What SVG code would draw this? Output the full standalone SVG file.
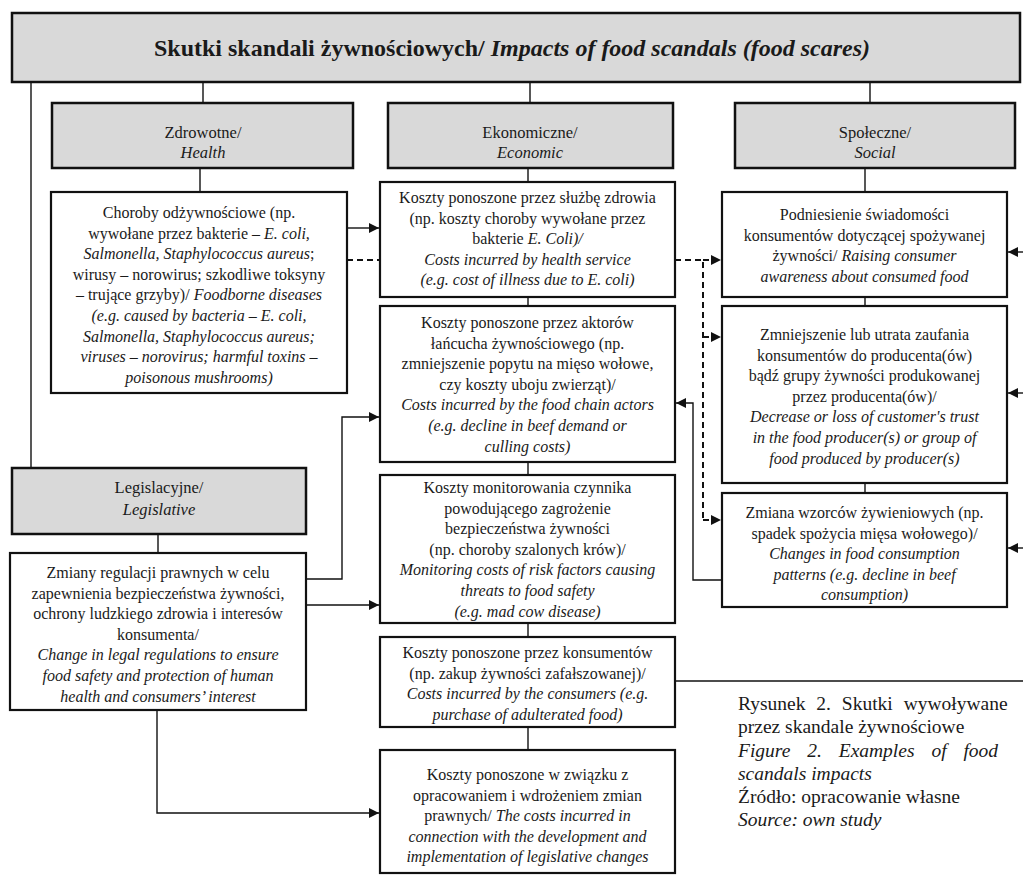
<svg xmlns="http://www.w3.org/2000/svg" width="1023" height="876" viewBox="0 0 1023 876">
<style>
text{font-family:"Liberation Serif","Times New Roman",serif;fill:#1a1a1a}
.t{font-size:16px;text-anchor:middle}
.h{font-size:16.5px;text-anchor:middle}
.i{font-style:italic}
.hdr{fill:#d9d9d9;stroke:#111;stroke-width:2.5}
.box{fill:#fff;stroke:#111;stroke-width:2.2}
.ln{fill:none;stroke:#111;stroke-width:1.4}
.ds{fill:none;stroke:#111;stroke-width:2;stroke-dasharray:6,4}
.cap{font-size:19.5px}
</style>
<defs>
<marker id="ar" viewBox="0 0 10 10" refX="10" refY="5" markerWidth="11" markerHeight="10" markerUnits="userSpaceOnUse" orient="auto">
<path d="M0,0 L10,5 L0,10 z" fill="#111"/>
</marker>
</defs>
<rect width="1023" height="876" fill="#fff"/>

<g id="connectors">
<line class="ln" x1="31" y1="82" x2="31" y2="468"/>
<line class="ln" x1="203" y1="82" x2="203" y2="103"/>
<line class="ln" x1="530" y1="82" x2="530" y2="103"/>
<line class="ln" x1="870" y1="82" x2="870" y2="103"/>
<line class="ln" x1="200" y1="168" x2="200" y2="192"/>
<line class="ln" x1="528" y1="168" x2="528" y2="182"/>
<line class="ln" x1="865" y1="168" x2="865" y2="192"/>
<line class="ln" x1="528" y1="297" x2="528" y2="306"/>
<line class="ln" x1="528" y1="462" x2="528" y2="475"/>
<line class="ln" x1="528" y1="623" x2="528" y2="637"/>
<line class="ln" x1="528" y1="727" x2="528" y2="750"/>
<line class="ln" x1="865" y1="297" x2="865" y2="306"/>
<line class="ln" x1="865" y1="483" x2="865" y2="493"/>
<line class="ln" x1="158" y1="534" x2="158" y2="553"/>
<line class="ln" x1="347" y1="228" x2="379" y2="228" marker-end="url(#ar)"/>
<line class="ds" x1="347" y1="260" x2="380" y2="260"/>
<polyline class="ds" points="675,260 703,260 703,520"/>
<line class="ds" x1="703" y1="260" x2="721" y2="260" marker-end="url(#ar)"/>
<line class="ds" x1="703" y1="337" x2="721" y2="337" marker-end="url(#ar)"/>
<line class="ds" x1="703" y1="520" x2="721" y2="520" marker-end="url(#ar)"/>
<polyline class="ln" points="722,580 693,580 693,403 676,403" marker-end="url(#ar)"/>
<polyline class="ln" points="306,579 342,579 342,417 379,417" marker-end="url(#ar)"/>
<line class="ln" x1="306" y1="605" x2="379" y2="605" marker-end="url(#ar)"/>
<polyline class="ln" points="157,710 157,813 379,813" marker-end="url(#ar)"/>
<line class="ln" x1="1023" y1="252" x2="1008" y2="252" marker-end="url(#ar)"/>
<line class="ln" x1="1023" y1="393" x2="1008" y2="393" marker-end="url(#ar)"/>
<line class="ln" x1="1023" y1="548" x2="1008" y2="548" marker-end="url(#ar)"/>
<line class="ln" x1="675" y1="681" x2="1023" y2="681"/>
</g>

<g id="title">
<rect class="hdr" x="12" y="13" width="1008" height="69"/>
<text x="512" y="56" style="font-size:24px;font-weight:bold;text-anchor:middle">Skutki skandali żywnościowych/ <tspan class="i">Impacts of food scandals (food scares)</tspan></text>
</g>

<g id="hdr-health">
<rect class="hdr" x="52" y="103" width="301" height="65"/>
<text class="h" x="203" y="138">Zdrowotne/</text>
<text class="h i" x="203" y="158">Health</text>
</g>

<g id="hdr-economic">
<rect class="hdr" x="388" y="103" width="285" height="65"/>
<text class="h" x="530" y="138">Ekonomiczne/</text>
<text class="h i" x="530" y="158">Economic</text>
</g>

<g id="hdr-social">
<rect class="hdr" x="735" y="103" width="280" height="65"/>
<text class="h" x="875" y="138">Społeczne/</text>
<text class="h i" x="875" y="158">Social</text>
</g>

<g id="health-1">
<rect class="box" x="51" y="192" width="296" height="201"/>
<text class="t" x="199" y="218">Choroby odżywnościowe (np.</text>
<text class="t" x="199" y="238.6">wywołane przez bakterie – <tspan class="i">E. coli,</tspan></text>
<text class="t" x="199" y="259.2"><tspan class="i">Salmonella, Staphylococcus aureus</tspan>;</text>
<text class="t" x="199" y="279.8">wirusy – norowirus; szkodliwe toksyny</text>
<text class="t" x="199" y="300.4">– trujące grzyby)/ <tspan class="i">Foodborne diseases</tspan></text>
<text class="t i" x="199" y="321">(e.g. caused by bacteria – E. coli,</text>
<text class="t i" x="199" y="341.6">Salmonella, Staphylococcus aureus;</text>
<text class="t i" x="199" y="362.2">viruses – norovirus; harmful toxins –</text>
<text class="t i" x="199" y="382.8">poisonous mushrooms)</text>
</g>

<g id="econ-1">
<rect class="box" x="380" y="182" width="295" height="115"/>
<text class="t" x="527.5" y="203">Koszty ponoszone przez służbę zdrowia</text>
<text class="t" x="527.5" y="223.6">(np. koszty choroby wywołane przez</text>
<text class="t" x="527.5" y="244.2">bakterie <tspan class="i">E. Coli)/</tspan></text>
<text class="t i" x="527.5" y="264.8">Costs incurred by health service</text>
<text class="t i" x="527.5" y="285.4">(e.g. cost of illness due to E. coli)</text>
</g>

<g id="econ-2">
<rect class="box" x="380" y="306" width="295" height="156"/>
<text class="t" x="527.5" y="328">Koszty ponoszone przez aktorów</text>
<text class="t" x="527.5" y="348.6">łańcucha żywnościowego (np.</text>
<text class="t" x="527.5" y="369.2">zmniejszenie popytu na mięso wołowe,</text>
<text class="t" x="527.5" y="389.8">czy koszty uboju zwierząt)/</text>
<text class="t i" x="527.5" y="410.4">Costs incurred by the food chain actors</text>
<text class="t i" x="527.5" y="431">(e.g. decline in beef demand or</text>
<text class="t i" x="527.5" y="451.6">culling costs)</text>
</g>

<g id="econ-3">
<rect class="box" x="380" y="475" width="295" height="148"/>
<text class="t" x="527.5" y="493">Koszty monitorowania czynnika</text>
<text class="t" x="527.5" y="513.6">powodującego zagrożenie</text>
<text class="t" x="527.5" y="534.2">bezpieczeństwa żywności</text>
<text class="t" x="527.5" y="554.8">(np. choroby szalonych krów)/</text>
<text class="t i" x="527.5" y="575.4">Monitoring costs of risk factors causing</text>
<text class="t i" x="527.5" y="596">threats to food safety</text>
<text class="t i" x="527.5" y="616.6">(e.g. mad cow disease)</text>
</g>

<g id="econ-4">
<rect class="box" x="380" y="637" width="295" height="90"/>
<text class="t" x="527.5" y="658">Koszty ponoszone przez konsumentów</text>
<text class="t" x="527.5" y="678.6">(np. zakup żywności zafałszowanej)/</text>
<text class="t i" x="527.5" y="699.2">Costs incurred by the consumers (e.g.</text>
<text class="t i" x="527.5" y="719.8">purchase of adulterated food)</text>
</g>

<g id="econ-5">
<rect class="box" x="380" y="750" width="295" height="123"/>
<text class="t" x="527.5" y="780">Koszty ponoszone w związku z</text>
<text class="t" x="527.5" y="800.6">opracowaniem i wdrożeniem zmian</text>
<text class="t" x="527.5" y="821.2">prawnych/ <tspan class="i">The costs incurred in</tspan></text>
<text class="t i" x="527.5" y="841.8">connection with the development and</text>
<text class="t i" x="527.5" y="862.4">implementation of legislative changes</text>
</g>

<g id="social-1">
<rect class="box" x="722" y="192" width="285" height="105"/>
<text class="t" x="864.5" y="220">Podniesienie świadomości</text>
<text class="t" x="864.5" y="240.6">konsumentów  dotyczącej spożywanej</text>
<text class="t" x="864.5" y="261.2">żywności/ <tspan class="i">Raising consumer</tspan></text>
<text class="t i" x="864.5" y="281.8">awareness about consumed food</text>
</g>

<g id="social-2">
<rect class="box" x="722" y="306" width="285" height="177"/>
<text class="t" x="864.5" y="340">Zmniejszenie  lub utrata zaufania</text>
<text class="t" x="864.5" y="360.6">konsumentów  do producenta(ów)</text>
<text class="t" x="864.5" y="381.2">bądź grupy żywności produkowanej</text>
<text class="t" x="864.5" y="401.8">przez producenta(ów)/</text>
<text class="t i" x="864.5" y="422.4">Decrease or loss of customer's trust</text>
<text class="t i" x="864.5" y="443">in the food producer(s) or group of</text>
<text class="t i" x="864.5" y="463.6">food produced by producer(s)</text>
</g>

<g id="social-3">
<rect class="box" x="722" y="493" width="285" height="114"/>
<text class="t" x="864.5" y="518">Zmiana  wzorców żywieniowych (np.</text>
<text class="t" x="864.5" y="538.6">spadek spożycia mięsa wołowego)/</text>
<text class="t i" x="864.5" y="559.2">Changes in food consumption</text>
<text class="t i" x="864.5" y="579.8">patterns (e.g. decline in beef</text>
<text class="t i" x="864.5" y="600.4">consumption)</text>
</g>

<g id="hdr-legislative">
<rect class="hdr" x="12" y="468" width="294" height="66"/>
<text class="h" x="159" y="493">Legislacyjne/</text>
<text class="h i" x="159" y="515">Legislative</text>
</g>

<g id="legis-1">
<rect class="box" x="10" y="553" width="296" height="157"/>
<text class="t" x="158" y="578">Zmiany  regulacji prawnych w celu</text>
<text class="t" x="158" y="598.6">zapewnienia bezpieczeństwa żywności,</text>
<text class="t" x="158" y="619.2">ochrony ludzkiego zdrowia i interesów</text>
<text class="t" x="158" y="639.8">konsumenta/</text>
<text class="t i" x="158" y="660.4">Change in legal regulations to ensure</text>
<text class="t i" x="158" y="681">food safety and protection of human</text>
<text class="t i" x="158" y="701.6">health and consumers’ interest</text>
</g>

<g id="caption">
<text class="cap" x="738" y="710" style="word-spacing:6px">Rysunek 2. Skutki wywoływane</text>
<text class="cap" x="738" y="733">przez skandale żywnościowe</text>
<text class="cap i" x="738" y="757" style="word-spacing:12px">Figure 2. Examples of food</text>
<text class="cap i" x="738" y="780">scandals impacts</text>
<text class="cap" x="738" y="803">Źródło: opracowanie własne</text>
<text class="cap i" x="738" y="826">Source: own study</text>
</g>
</svg>
